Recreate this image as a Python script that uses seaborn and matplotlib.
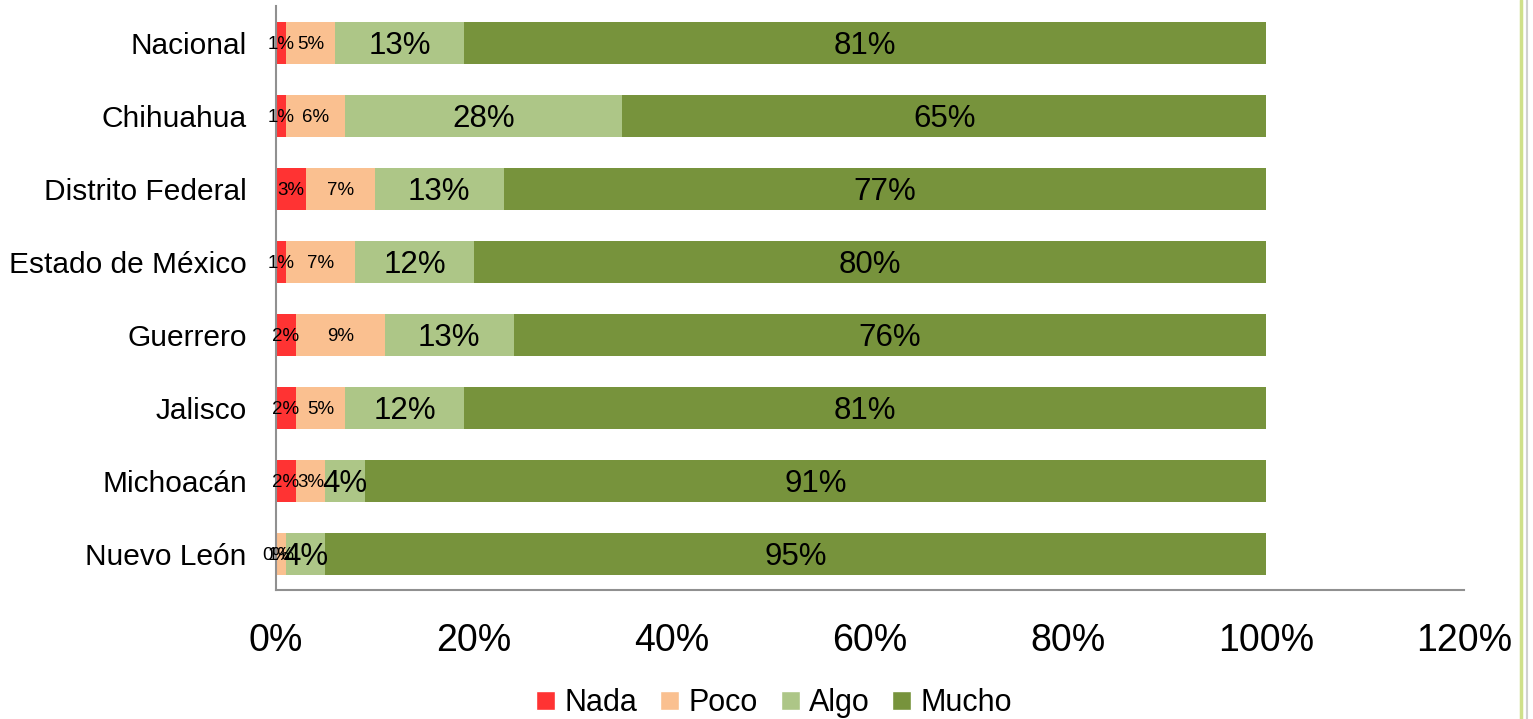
import numpy as np
import pandas as pd
import matplotlib.pyplot as plt
import seaborn as sns
from matplotlib.lines import Line2D
from matplotlib.patches import Patch

# data (percent)
regions = ['Nacional', 'Chihuahua', 'Distrito Federal', 'Estado de México',
           'Guerrero', 'Jalisco', 'Michoacán', 'Nuevo León']
nada = [1, 1, 3, 1, 2, 2, 2, 0]
poco = [5, 6, 7, 7, 9, 5, 3, 1]
algo = [13, 28, 13, 12, 13, 12, 4, 4]
mucho = [81, 65, 77, 80, 76, 81, 91, 95]

levels = ['Nada', 'Poco', 'Algo', 'Mucho']
colors = ['#ff3333', '#fac090', '#adc687', '#77933c']
label_sizes = [13.5, 13.5, 22.5, 22.5]

df = pd.DataFrame({'region': regions, 'Nada': nada, 'Poco': poco,
                   'Algo': algo, 'Mucho': mucho})
cum = df[levels].cumsum(axis=1)

sns.set_style('white')
plt.rcParams['font.family'] = ['Liberation Sans', 'DejaVu Sans']

fig = plt.figure(figsize=(15.33, 7.19), dpi=100)
ax = fig.add_axes([0.18, 0.1794, 0.775, 0.812])

# stacked bars: draw cumulative totals back to front
for lvl, col in reversed(list(zip(levels, colors))):
    sns.barplot(x=cum[lvl], y=df['region'], color=col, orient='h',
                width=0.575, saturation=1, linewidth=0, ax=ax)

# segment labels
for lvl, size in zip(levels, label_sizes):
    centers = cum[lvl] - df[lvl] / 2
    for i, (c, v) in enumerate(zip(centers, df[lvl])):
        ax.text(c, i, f'{v}%', ha='center', va='center_baseline',
                fontsize=size, color='black')

ax.set_xlim(0, 120)
ax.set_xticks(range(0, 121, 20))
ax.set_xticklabels([f'{t}%' for t in range(0, 121, 20)])
ax.set_xlabel('')
ax.set_ylabel('')
ax.tick_params(axis='x', length=0, pad=24, labelsize=27, labelcolor='black')
ax.tick_params(axis='y', length=0, pad=21, labelsize=21.5, labelcolor='black')
sns.despine(ax=ax, top=True, right=True)
for s in ['left', 'bottom']:
    ax.spines[s].set_color('#909090')
    ax.spines[s].set_linewidth(1.5)

handles = [Patch(facecolor=c, label=l) for l, c in zip(levels, colors)]
fig.legend(handles=handles, loc='center', bbox_to_anchor=(0.505, 0.022),
           ncol=4, frameon=False, fontsize=22, handlelength=0.62,
           handleheight=0.62, handletextpad=0.3, columnspacing=0.75,
           labelcolor='black')

# decorative border on the right
fig.add_artist(Line2D([1521 / 1533] * 2, [0, 1], color='#cfe08a', lw=2.5))
fig.add_artist(Line2D([1527 / 1533] * 2, [0, 1], color='#d0d0d0', lw=1.5))

fig.savefig('out.png', dpi=100)
